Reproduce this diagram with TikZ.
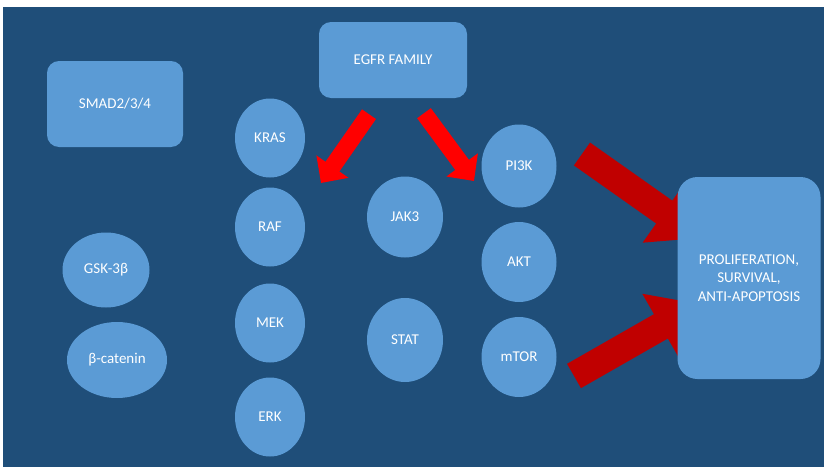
\documentclass[tikz,border=0pt]{standalone}
\usepackage{fontspec}
\setmainfont{Carlito}
\usepackage{xcolor}
\definecolor{cBack}{HTML}{1F4E79}
\definecolor{cShape}{HTML}{5B9BD5}
\definecolor{cRed}{HTML}{FF0000}
\definecolor{cDarkRed}{HTML}{C00000}
\usepackage{tikz}
\usetikzlibrary{arrows.meta,shapes.geometric,calc}
\pgfdeclarelayer{bg}
\pgfdeclarelayer{arr}
\pgfsetlayers{bg,arr,main}
\tikzset{
  node-box/.style={fill=cShape,rounded corners=12pt,inner sep=0pt,
    align=center,text=white,font=\fontsize{15}{18.5}\selectfont},
  node-oval/.style={fill=cShape,ellipse,inner sep=0pt,
    text=white,font=\fontsize{15}{18.5}\selectfont},
  arrow-egfr/.style={-{Triangle[length=20pt,width=38pt]},line width=17pt,draw=cRed},
  arrow-out/.style={-{Triangle[length=45pt,width=72pt]},line width=28pt,draw=cDarkRed},
}

\begin{document}
\begin{tikzpicture}[x=1pt,y=-1pt]
  \useasboundingbox (0,0) rectangle (828,471);
  \begin{pgfonlayer}{bg}
    \fill[white] (0,0) rectangle (828,471);
    \fill[cBack] (3,7) rectangle (824,467);
  \end{pgfonlayer}

  % receptor and left column
  \node[node-box,minimum width=148pt,minimum height=76pt] (egfr) at (393,60) {EGFR FAMILY};
  \node[node-box,minimum width=136pt,minimum height=86pt] (smad) at (115,104) {SMAD2/3/4};
  \node[node-oval,minimum width=87pt,minimum height=75pt] (gsk) at (106,270) {GSK-3β};
  \node[node-oval,minimum width=100pt,minimum height=76pt] (bcat) at (117,360) {β-catenin};

  % MAPK cascade
  \node[node-oval,minimum width=70pt,minimum height=79pt] (kras) at (270,138) {KRAS};
  \node[node-oval,minimum width=70pt,minimum height=79pt] (raf) at (270,227) {RAF};
  \node[node-oval,minimum width=70pt,minimum height=79pt] (mek) at (270,323) {MEK};
  \node[node-oval,minimum width=70pt,minimum height=79pt] (erk) at (270,417) {ERK};

  % JAK/STAT
  \node[node-oval,minimum width=76pt,minimum height=81pt] (jak3) at (405,217) {JAK3};
  \node[node-oval,minimum width=76pt,minimum height=84pt] (stat) at (405,340) {STAT};

  % PI3K/AKT/mTOR
  \node[node-oval,minimum width=75pt,minimum height=83pt] (pi3k) at (519,166) {PI3K};
  \node[node-oval,minimum width=75pt,minimum height=80pt] (akt) at (519,262) {AKT};
  \node[node-oval,minimum width=75pt,minimum height=80pt] (mtor) at (519,357) {mTOR};

  \node[node-box,rounded corners=20pt,minimum width=143pt,minimum height=202pt] (prolif)
    at (749,278) {PROLIFERATION,\\SURVIVAL,\\ANTI-APOPTOSIS};

  % arrows
  \coordinate (egfrL) at ($(egfr.south)+(-24,16)$);
  \coordinate (egfrR) at ($(egfr.south)+(31,15)$);
  \coordinate (rasTip) at (321,183);
  \coordinate (pi3kTip) at (474,181);
  \coordinate (pi3kOut) at (582,154);
  \coordinate (mtorOut) at (574,376);
  \coordinate (prolifIn1) at (701,238);
  \coordinate (prolifIn2) at (700,304);
  \begin{pgfonlayer}{arr}
    \draw[arrow-egfr] (egfrL) -- (rasTip);
    \draw[arrow-egfr] (egfrR) -- (pi3kTip);
    \draw[arrow-out] (pi3kOut) -- (prolifIn1);
    \draw[arrow-out] (mtorOut) -- (prolifIn2);
  \end{pgfonlayer}
\end{tikzpicture}
\end{document}
